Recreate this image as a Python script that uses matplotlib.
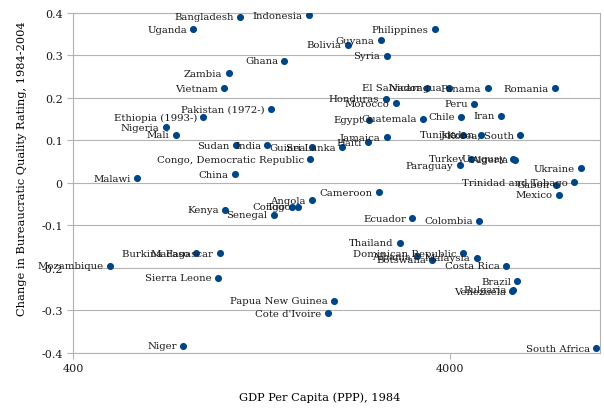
import numpy as np
import matplotlib.pyplot as plt

countries = ['Indonesia', 'Bangladesh', 'Uganda', 'Ghana', 'Zambia', 'Vietnam',
             'Pakistan (1972-)', 'Ethiopia (1993-)', 'Nigeria', 'Mali', 'Malawi',
             'Sudan', 'India', 'Guinea', 'Sri Lanka', 'Haiti', 'Jamaica',
             'Congo, Democratic Republic', 'China', 'Kenya', 'Senegal', 'Angola',
             'Congo', 'Togo', 'Cameroon', 'Ecuador', 'Colombia', 'Paraguay',
             'Turkey', 'Uruguay', 'Algeria', 'Tunisia', 'Jordan', 'Korea, South',
             'Chile', 'Guatemala', 'Egypt', 'Iran', 'Peru', 'Honduras', 'Morocco',
             'El Salvador', 'Nicaragua', 'Panama', 'Romania', 'Philippines',
             'Guyana', 'Bolivia', 'Syria', 'Ukraine', 'Trinidad and Tobago',
             'Gabon', 'Mexico', 'Thailand', 'Dominican Republic', 'Malaysia',
             'Albania', 'Botswana', 'Costa Rica', 'Brazil', 'Bulgaria', 'Venezuela',
             'South Africa', 'Papua New Guinea', "Cote d'Ivoire", 'Niger',
             'Sierra Leone', 'Madagascar', 'Burkina Faso', 'Mozambique']

gdp = [1691, 1109, 834, 1454, 1035, 1008,
       1340, 886, 704, 750, 590,
       1080, 1311, 1719, 2064, 2428, 2717,
       1701, 1076, 1012, 1363, 1719,
       1524, 1581, 2593, 3177, 4785, 4251,
       4547, 5876, 5948, 4339, 4833, 6135,
       4277, 3400, 2444, 5463, 4640, 2700, 2871,
       3483, 3968, 5036, 7596, 3644,
       2624, 2141, 2717, 8905, 8566,
       7640, 7800, 2948, 4325, 4708,
       3271, 3592, 5652, 6036, 5888, 5853,
       9800, 1973, 1896, 782,
       968, 980, 846, 502]

change = [0.395, 0.391, 0.362, 0.287, 0.258, 0.223,
          0.175, 0.154, 0.131, 0.113, 0.011,
          0.089, 0.088, 0.084, 0.084, 0.096, 0.1075,
          0.0556, 0.020, -0.0635, -0.0745, -0.041,
          -0.056, -0.056, -0.022, -0.083, -0.0894, 0.042,
          0.0565, 0.0565, 0.055, 0.113, 0.113, 0.112,
          0.156, 0.151, 0.149, 0.158, 0.186, 0.198, 0.1875,
          0.224, 0.224, 0.223, 0.223, 0.362,
          0.336, 0.325, 0.299, 0.0345, 0.0016,
          -0.004, -0.0275, -0.141, -0.166, -0.176,
          -0.173, -0.1805, -0.195, -0.231, -0.251, -0.255,
          -0.389, -0.278, -0.3066, -0.383,
          -0.223, -0.166, -0.166, -0.195]

plt.rcParams['font.family'] = ['DejaVu Serif']

fig = plt.figure(figsize=(6.04, 4.10), dpi=100)
ax = fig.add_axes([0.121, 0.137, 0.872, 0.829])

ax.scatter(gdp, change, s=26, color='#004586', zorder=3, linewidths=0)
for name, x, y in zip(countries, gdp, change):
    ax.annotate(name, (x, y), xytext=(-4.5, 0), textcoords='offset points',
                ha='right', va='center', fontsize=7.3, color='#1a1a1a', zorder=4)

ax.set_xscale('log')
ax.set_xlim(400, 10000)
ax.set_ylim(-0.4, 0.4)
ax.set_xticks([400, 4000])
ax.set_xticklabels(['400', '4000'])
ax.xaxis.set_minor_locator(plt.NullLocator())
ax.set_yticks(np.arange(-0.4, 0.41, 0.1))
ax.set_yticklabels(['-0.4', '-0.3', '-0.2', '-0.1', '0', '0.1', '0.2', '0.3', '0.4'])
ax.tick_params(labelsize=8, colors='#b3b3b3', labelcolor='#1a1a1a', length=4)
ax.grid(axis='y', color='#b3b3b3', linewidth=0.8)
ax.set_axisbelow(True)
for sp in ax.spines.values():
    sp.set_color('#b3b3b3')

ax.set_xlabel('GDP Per Capita (PPP), 1984', fontsize=8.2)
ax.xaxis.set_label_coords(0.469, -0.115)
ax.set_ylabel('Change in Bureaucratic Quality Rating, 1984-2004', fontsize=8.2)
ax.yaxis.set_label_coords(-0.087, 0.544)

fig.savefig('out.png', dpi=100)
